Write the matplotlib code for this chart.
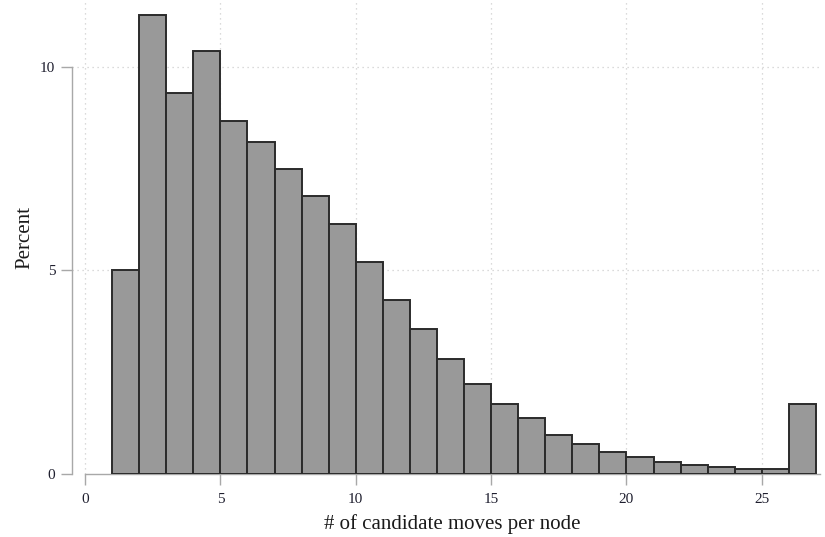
import matplotlib
matplotlib.use("Agg")
import matplotlib.pyplot as plt
import numpy as np

bin_left = list(range(1, 27))
percent = [5.01, 11.28, 9.36, 10.39, 8.68, 8.15, 7.48, 6.82, 6.13, 5.20,
           4.27, 3.56, 2.82, 2.21, 1.71, 1.37, 0.97, 0.74, 0.53, 0.41,
           0.29, 0.22, 0.16, 0.12, 0.12, 1.71]
xticks = [0, 5, 10, 15, 20, 25]
yticks = [0, 5, 10]

plt.rcParams['font.family'] = ['Liberation Serif', 'DejaVu Serif']

fig = plt.figure(figsize=(8.25, 5.37), dpi=100)
ax = fig.add_axes([0.0873, 0.1173, 0.9067, 0.8827])

ax.bar(bin_left, percent, width=1.0, align='edge', color='#999999',
       edgecolor='#2b2b2b', linewidth=1.4, zorder=3)

ax.set_xlim(-0.48, 27.15)
ax.set_ylim(0, 11.64)
ax.set_xticks(xticks)
ax.set_yticks(yticks)

for x in xticks:
    ax.axvline(x, color='#cfcfcf', linestyle=(0, (1, 3)), linewidth=0.9, zorder=1)
for y in [5, 10]:
    ax.axhline(y, color='#cfcfcf', linestyle=(0, (1, 3)), linewidth=0.9, zorder=1)

for s in ['top', 'right']:
    ax.spines[s].set_visible(False)
ax.spines['left'].set_color('#a8a8a8')
ax.spines['bottom'].set_color('#a8a8a8')
ax.spines['left'].set_bounds(0, 10)
ax.spines['bottom'].set_bounds(0, 27.15)
ax.spines['left'].set_linewidth(1.0)
ax.spines['bottom'].set_linewidth(1.0)

ax.tick_params(axis='both', colors='#a8a8a8', length=8, width=1.0,
               labelcolor='#1f1f2f', labelsize=11)
ax.tick_params(axis='x', pad=6)
ax.tick_params(axis='y', pad=4)

ax.set_xlabel('# of candidate moves per node', fontsize=15, color='#1a1a1a', labelpad=4)
ax.set_ylabel('Percent', fontsize=15, color='#1a1a1a', labelpad=4)
ax.xaxis.set_label_coords(0.5087, -0.085)

fig.savefig('out.png', dpi=100)
